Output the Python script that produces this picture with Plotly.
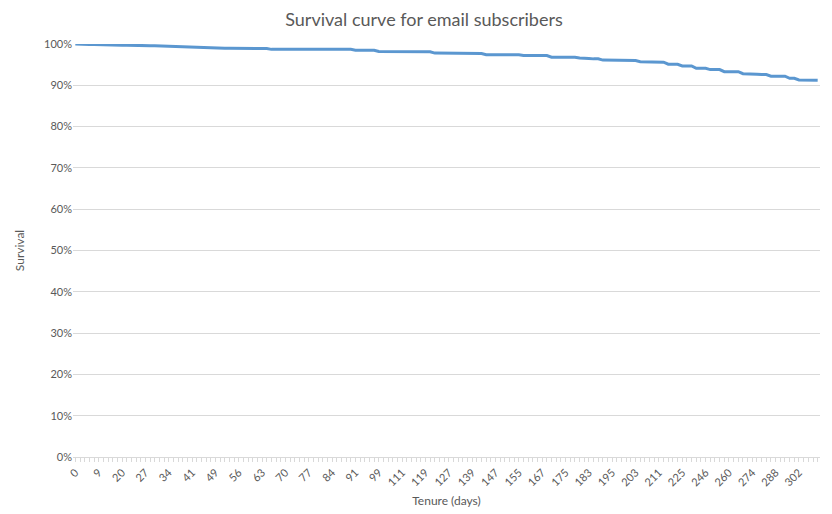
import plotly.graph_objects as go

tenure_days = [
    0, 1, 3, 5, 7,
    9, 11, 13, 16, 18,
    20, 21, 22, 24, 25,
    27, 28, 30, 31, 33,
    34, 35, 37, 38, 40,
    41, 43, 44, 46, 47,
    49, 50, 52, 53, 55,
    56, 57, 59, 60, 62,
    63, 64, 66, 67, 69,
    70, 71, 73, 74, 76,
    77, 78, 80, 81, 83,
    84, 85, 87, 88, 90,
    91, 92, 94, 96, 98,
    99, 102, 105, 107, 109,
    111, 112, 114, 116, 118,
    119, 120, 122, 124, 126,
    127, 129, 132, 134, 137,
    139, 140, 142, 144, 146,
    147, 148, 150, 152, 154,
    155, 157, 160, 162, 165,
    167, 168, 170, 172, 174,
    175, 176, 178, 180, 182,
    183, 185, 188, 190, 193,
    195, 196, 198, 200, 202,
    203, 204, 206, 208, 210,
    211, 214, 217, 219, 222,
    225, 229, 233, 237, 242,
    246, 249, 252, 255, 258,
    260, 263, 266, 268, 271,
    274, 277, 280, 283, 286,
    288, 291, 294, 297, 300,
    302, 305, 308, 311, 314,
]

survival = [
    1.000, 0.999, 0.999, 0.9985, 0.9985,
    0.998, 0.998, 0.998, 0.9975, 0.997,
    0.997, 0.997, 0.9965, 0.9965, 0.996,
    0.996, 0.996, 0.996, 0.9955, 0.9955,
    0.9955, 0.9955, 0.995, 0.993, 0.993,
    0.993, 0.993, 0.992, 0.992, 0.991,
    0.991, 0.990, 0.990, 0.990, 0.990,
    0.990, 0.9895, 0.9895, 0.989, 0.989,
    0.989, 0.989, 0.987, 0.987, 0.987,
    0.987, 0.987, 0.987, 0.987, 0.987,
    0.987, 0.987, 0.987, 0.987, 0.987,
    0.987, 0.987, 0.987, 0.987, 0.987,
    0.985, 0.985, 0.985, 0.985, 0.985,
    0.982, 0.982, 0.982, 0.982, 0.982,
    0.982, 0.982, 0.982, 0.981, 0.981,
    0.981, 0.981, 0.978, 0.978, 0.978,
    0.978, 0.978, 0.978, 0.977, 0.977,
    0.977, 0.977, 0.977, 0.974, 0.974,
    0.974, 0.974, 0.974, 0.974, 0.974,
    0.974, 0.972, 0.972, 0.972, 0.972,
    0.972, 0.972, 0.968, 0.968, 0.968,
    0.968, 0.968, 0.968, 0.966, 0.966,
    0.965, 0.964, 0.964, 0.961, 0.961,
    0.960, 0.960, 0.960, 0.960, 0.960,
    0.960, 0.957, 0.957, 0.957, 0.957,
    0.956, 0.956, 0.951, 0.951, 0.951,
    0.947, 0.947, 0.947, 0.941, 0.941,
    0.941, 0.938, 0.938, 0.938, 0.933,
    0.933, 0.933, 0.933, 0.928, 0.928,
    0.927, 0.927, 0.926, 0.926, 0.922,
    0.922, 0.922, 0.922, 0.917, 0.917,
    0.913, 0.913, 0.912, 0.912, 0.912,
]

x_labels = [str(d) for d in tenure_days]
tick_text = [lab if i % 5 == 0 else "" for i, lab in enumerate(x_labels)]

grey = "#595959"
grid = "#d9d9d9"

fig = go.Figure(
    go.Scatter(
        x=x_labels,
        y=survival,
        mode="lines",
        line=dict(color="#5b97d0", width=3),
        showlegend=False,
    )
)

fig.update_layout(
    width=832,
    height=514,
    paper_bgcolor="white",
    plot_bgcolor="white",
    margin=dict(l=58, r=20, t=36, b=65),
    font=dict(family="Lato, 'Open Sans', sans-serif", color=grey, size=11),
    title=dict(
        text="Survival curve for email subscribers",
        x=0.5,
        xanchor="center",
        y=0.978,
        yanchor="middle",
        font=dict(size=18, color=grey),
    ),
)

fig.update_xaxes(
    type="category",
    tickmode="array",
    tickvals=x_labels,
    ticktext=tick_text,
    tickangle=-45,
    ticks="outside",
    ticklen=4,
    tickcolor=grid,
    showline=True,
    linecolor=grid,
    showgrid=False,
    range=[-0.5, len(x_labels) - 0.5],
    title=dict(text="Tenure (days)", font=dict(size=12, color=grey), standoff=9),
    tickfont=dict(size=11, color=grey),
)

fig.update_yaxes(
    range=[0, 1],
    tickmode="array",
    tickvals=[i / 10 for i in range(11)],
    tickformat=".0%",
    showgrid=True,
    gridcolor=grid,
    zeroline=False,
    showline=False,
    ticks="",
    title=dict(text="Survival", font=dict(size=12, color=grey), standoff=16),
    tickfont=dict(size=11, color=grey),
)

fig.write_html("out.html")
